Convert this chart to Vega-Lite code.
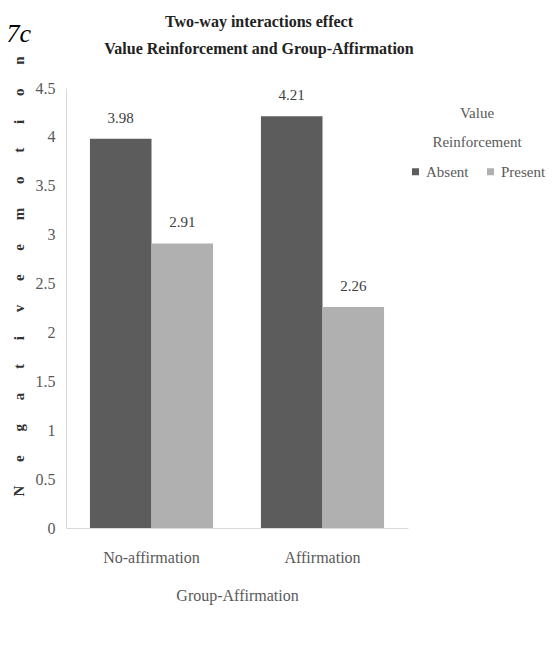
{
  "$schema": "https://vega.github.io/schema/vega-lite/v6.json",
  "autosize": {"type": "none"},
  "padding": {"left": 66, "top": 88, "right": 147, "bottom": 122},
  "width": 342,
  "height": 440,
  "background": "white",
  "config": {"view": {"stroke": null}},
  "title": {
    "text": ["Two-way interactions effect", "Value Reinforcement and Group-Affirmation"],
    "font": "Liberation Serif",
    "fontSize": 16,
    "fontWeight": "bold",
    "color": "#222222",
    "lineHeight": 27,
    "anchor": "middle",
    "baseline": "bottom",
    "dx": 22,
    "offset": -53
  },
  "data": {
    "values": [
      {"group": "No-affirmation", "vr": "Absent", "value": 3.98},
      {"group": "No-affirmation", "vr": "Present", "value": 2.91},
      {"group": "Affirmation", "vr": "Absent", "value": 4.21},
      {"group": "Affirmation", "vr": "Present", "value": 2.26}
    ]
  },
  "resolve": {"axis": {"x": "independent"}},
  "layer": [
    {
      "mark": {"type": "bar"},
      "encoding": {
        "x": {
          "field": "group", "type": "nominal",
          "sort": ["No-affirmation", "Affirmation"],
          "scale": {"paddingInner": 0.28, "paddingOuter": 0.14},
          "axis": {
            "orient": "bottom",
            "title": "Group-Affirmation",
            "labelAngle": 0,
            "labelFont": "Liberation Serif",
            "labelFontSize": 16,
            "labelColor": "#595959",
            "labelPadding": 21,
            "ticks": false,
            "domainColor": "#d9d9d9",
            "titleFont": "Liberation Serif",
            "titleFontSize": 16,
            "titleFontWeight": "normal",
            "titleColor": "#595959",
            "titleY": 59,
            "titleBaseline": "top"
          }
        },
        "xOffset": {"field": "vr", "type": "nominal", "sort": ["Absent", "Present"], "scale": {"paddingInner": 0, "paddingOuter": 0}},
        "y": {
          "field": "value", "type": "quantitative",
          "scale": {"domain": [0, 4.5], "nice": false},
          "axis": {
            "values": [0, 0.5, 1, 1.5, 2, 2.5, 3, 3.5, 4, 4.5],
            "format": ".2~f",
            "grid": false,
            "ticks": false,
            "domain": true,
            "domainColor": "#d9d9d9",
            "labelFont": "Liberation Serif",
            "labelFontSize": 16,
            "labelColor": "#595959",
            "labelPadding": 11,
            "title": "N\u2003\u2002\u200ae\u2003\u2002\u200ag\u2003\u2002\u200aa\u2003\u2002\u200at\u2003\u2002\u200ai\u2003\u2002\u200av\u2003\u2002\u200ae\u2003\u2002\u200ae\u2003\u2002\u200am\u2003\u2002\u200ao\u2003\u2002\u200at\u2003\u2002\u200ai\u2003\u2002\u200ao\u2003\u2002\u200an",
            "titleFont": "Liberation Serif",
            "titleFontSize": 15,
            "titleFontWeight": "bold",
            "titleColor": "#333333",
            "titleAngle": -90,
            "titleX": -48,
            "titleY": 188,
            "titleBaseline": "middle",
            "titleAlign": "center"
          }
        },
        "color": {
          "field": "vr", "type": "nominal",
          "sort": ["Absent", "Present"],
          "scale": {"domain": ["Absent", "Present"], "range": ["#5c5c5c", "#b0b0b0"]},
          "legend": {
            "title": ["Value", "Reinforcement"],
            "orient": "none",
            "legendX": 342,
            "legendY": 18,
            "direction": "horizontal",
            "columns": 2,
            "titleFont": "Liberation Serif",
            "titleFontSize": 15,
            "titleFontWeight": "normal",
            "titleColor": "#595959",
            "titleLineHeight": 29,
            "titleAnchor": "middle",
            "titleAlign": "center",
            "titlePadding": 14,
            "labelFont": "Liberation Serif",
            "labelFontSize": 15,
            "labelColor": "#595959",
            "symbolType": "square",
            "symbolSize": 49,
            "symbolStrokeWidth": 0,
            "labelOffset": 3,
            "columnPadding": 14
          }
        }
      }
    },
    {
      "mark": {"type": "text", "dy": -13, "baseline": "bottom", "font": "Liberation Serif", "fontSize": 15, "color": "#404040"},
      "encoding": {
        "x": {
          "field": "group", "type": "nominal",
          "sort": ["No-affirmation", "Affirmation"],
          "axis": {
            "orient": "top",
            "title": "7c",
            "labels": false,
            "ticks": false,
            "domain": false,
            "titleFont": "Liberation Serif",
            "titleFontSize": 26,
            "titleFontStyle": "italic",
            "titleFontWeight": "normal",
            "titleColor": "#000000",
            "titleX": -60,
            "titleY": -47,
            "titleAlign": "left",
            "titleBaseline": "alphabetic",
            "titleAnchor": null
          }
        },
        "xOffset": {"field": "vr", "type": "nominal", "sort": ["Absent", "Present"]},
        "y": {"field": "value", "type": "quantitative"},
        "text": {"field": "value", "type": "quantitative", "format": ".2f"}
      }
    }
  ]
}
